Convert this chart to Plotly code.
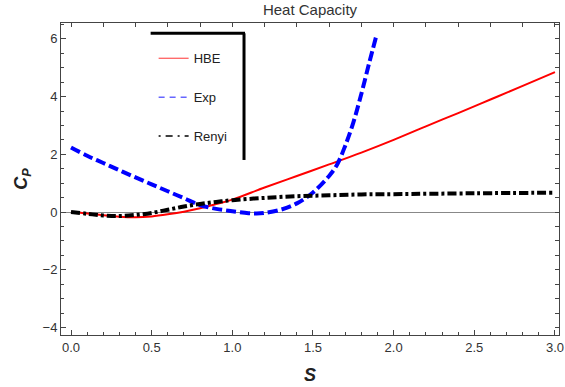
import plotly.graph_objects as go

# ---- data ----
s_hbe = [0.0, 0.1, 0.2, 0.3, 0.4, 0.5, 0.6, 0.7, 0.8, 0.9, 1.0, 1.2, 1.4, 1.6, 1.8, 2.0, 2.2, 2.4, 2.6, 2.8, 3.0]
cp_hbe = [0.0, -0.05, -0.11, -0.16, -0.18, -0.15, -0.08, 0.01, 0.13, 0.28, 0.43, 0.85, 1.25, 1.65, 2.06, 2.5, 2.97, 3.43, 3.9, 4.37, 4.85]

s_exp = [0.0, 0.1, 0.2, 0.3, 0.4, 0.5, 0.6, 0.7, 0.8, 0.9, 1.0, 1.1, 1.15, 1.2, 1.3, 1.4, 1.5, 1.6, 1.65, 1.7, 1.75, 1.8, 1.85, 1.89]
cp_exp = [2.24, 1.95, 1.7, 1.45, 1.2, 0.96, 0.72, 0.48, 0.24, 0.11, 0.03, -0.04, -0.05, -0.03, 0.08, 0.3, 0.68, 1.25, 1.65, 2.3, 3.1, 4.1, 5.2, 6.05]

s_renyi = [0.0, 0.1, 0.2, 0.3, 0.4, 0.5, 0.6, 0.7, 0.8, 0.9, 1.0, 1.2, 1.4, 1.6, 1.8, 2.0, 2.5, 3.0]
cp_renyi = [0.0, -0.06, -0.12, -0.14, -0.1, -0.03, 0.08, 0.19, 0.28, 0.35, 0.41, 0.49, 0.55, 0.58, 0.61, 0.62, 0.65, 0.67]

series_names = ["HBE", "Exp", "Renyi"]

XR = [-0.062, 3.025]
YR = [-4.26, 6.55]

fig = go.Figure()

fig.add_trace(go.Scatter(x=s_hbe, y=cp_hbe, mode="lines", showlegend=False,
                         line=dict(color="#FF0000", width=2, shape="spline")))
fig.add_trace(go.Scatter(x=s_exp, y=cp_exp, mode="lines", showlegend=False,
                         line=dict(color="#0000FF", width=4, dash="10px,4px", shape="spline")))
fig.add_trace(go.Scatter(x=s_renyi, y=cp_renyi, mode="lines", showlegend=False,
                         line=dict(color="#000000", width=4, dash="9px,3px,3px,3px", shape="spline")))

# legend entries (thin swatches)
leg_styles = [dict(color="#FF3333", width=1),
              dict(color="#6666FF", width=1.5, dash="6px,5px"),
              dict(color="#000000", width=1.5, dash="2px,5px,7px,5px")]
for i, (nm, st) in enumerate(zip(series_names, leg_styles)):
    fig.add_trace(go.Scatter(x=[None], y=[None], mode="lines", name=nm, line=st,
                             legendgroup=nm, xaxis="x2", yaxis="y2"))

font_fam = "Liberation Sans, Arial, sans-serif"

fig.update_layout(
    width=565, height=387,
    margin=dict(l=61, r=6, t=23, b=52, autoexpand=False),
    paper_bgcolor="white", plot_bgcolor="white",
    font=dict(family=font_fam, size=12, color="#333333"),
    title=dict(text="Heat Capacity", x=0.5, xanchor="center", xref="paper",
               y=0.975, yanchor="middle", font=dict(size=15, color="#333333")),
    xaxis=dict(range=XR, showgrid=False, zeroline=False, showline=True, linecolor="#444444",
               linewidth=1, mirror=True, ticks="inside", ticklen=5, tickcolor="#444444",
               tick0=0, dtick=0.5, tickformat=".1f", tickfont=dict(size=13), automargin=False,
               minor=dict(dtick=0.1, tick0=0, ticks="inside", ticklen=3, tickcolor="#444444"),
               title=dict(text="<b><i>S</i></b>", font=dict(size=18, color="#222222"), standoff=14)),
    yaxis=dict(range=YR, showgrid=False, zeroline=True, zerolinecolor="#888888", zerolinewidth=1,
               showline=True, linecolor="#444444", linewidth=1, mirror=True,
               ticks="inside", ticklen=5, tickcolor="#444444", tick0=0, dtick=2,
               tickfont=dict(size=13), automargin=False,
               minor=dict(dtick=0.5, tick0=0, ticks="inside", ticklen=3, tickcolor="#444444"),
               title=dict(text="<b><i>C<sub>P</sub></i></b>", font=dict(size=18, color="#222222"), standoff=10)),
    xaxis2=dict(range=XR, overlaying="x", side="top", showgrid=False, zeroline=False,
                showline=True, linecolor="#444444", linewidth=1,
                ticks="inside", ticklen=4, tickcolor="#444444", automargin=False,
                tick0=0, dtick=0.2, showticklabels=False),
    yaxis2=dict(range=YR, overlaying="y", side="right", showgrid=False, zeroline=False,
                showline=True, linecolor="#444444", linewidth=1,
                ticks="inside", ticklen=4, tickcolor="#444444", automargin=False,
                tick0=0, dtick=0.5, showticklabels=False),
    legend=dict(x=0.186, y=0.935, xanchor="left", yanchor="top", bgcolor="rgba(0,0,0,0)",
                borderwidth=0, tracegroupgap=19, font=dict(size=13, color="#222222"),
                itemwidth=30),
    shapes=[
        dict(type="line", xref="paper", yref="paper", x0=0.180, x1=0.3695, y0=0.967, y1=0.967,
             line=dict(color="black", width=3)),
        dict(type="line", xref="paper", yref="paper", x0=0.3675, x1=0.3675, y0=0.967, y1=0.561,
             line=dict(color="black", width=3)),
    ],
)

fig.write_html("out.html", config={"displayModeBar": False},
               post_script="document.body.style.margin='0';document.documentElement.style.overflow='hidden';document.body.style.overflow='hidden';")
